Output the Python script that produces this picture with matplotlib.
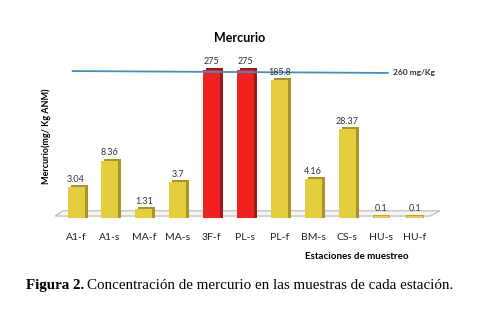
import numpy as np
import matplotlib.pyplot as plt
import matplotlib.transforms as mtransforms
from matplotlib.patches import Polygon

# Datos
estaciones = ['A1-f', 'A1-s', 'MA-f', 'MA-s', '3F-f', 'PL-s', 'PL-f', 'BM-s', 'CS-s', 'HU-s', 'HU-f']
mercurio = [3.04, 8.36, 1.31, 3.7, 275, 275, 185.8, 4.16, 28.37, 0.1, 0.1]
etiquetas = ['3.04', '8.36', '1.31', '3.7', '275', '275', '185.8', '4.16', '28.37', '0.1', '0.1']
limite = 260
limite_txt = '260 mg/Kg'

plt.rcParams['font.family'] = ['Lato', 'DejaVu Sans']

fig = plt.figure(figsize=(4.96, 3.10), dpi=100)
ax = fig.add_axes([0.111, 0.297, 0.776, 0.510])
ax.set_yscale('log')
ax.set_ylim(0.926, 400)
ax.set_xlim(-0.62, 10.74)

x = np.arange(len(estaciones))
vals = np.array(mercurio)
colores = ['#f0221f' if v > limite else '#e6cd3c' for v in vals]
sombras = ['#9e1a18' if v > limite else '#a89428' for v in vals]

# cara lateral (efecto 3D)
off = mtransforms.offset_copy(ax.transData, fig=fig, x=3, y=2, units='dots')
ax.bar(x, vals, width=0.5, color=sombras, transform=off, zorder=2)
ax.bar(x, vals, width=0.5, color=colores, zorder=3)

# valores por debajo del piso
bajo = vals < 1
ax.bar(x[bajo], np.ones(bajo.sum()) * 1.02 - 0.926, bottom=0.926, width=0.5,
       color='#e6cd3c', edgecolor='#a89428', linewidth=0.5, zorder=3)

# piso
piso = Polygon([(0.0, 0.012), (0.975, 0.012), (1.0, 0.045), (0.02, 0.045)],
               closed=True, transform=ax.transAxes, facecolor='#f4f4f4',
               edgecolor='#b8b8b8', linewidth=0.8, zorder=1)
ax.add_patch(piso)

# linea limite
ax.plot([-0.1, 9.2], [limite, limite * 0.93], color='#3a8fcf', linewidth=1.3, zorder=4)
ax.text(9.35, limite * 0.93, limite_txt, fontsize=6, fontweight='bold',
        color='#333333', va='center', ha='left')

for xi, v, t in zip(x, vals, etiquetas):
    ax.text(xi, max(v, 1.0) * 1.13, t, ha='center', va='bottom', fontsize=6.5,
            color='#333333', zorder=5)

ax.set_xticks(x)
ax.set_xticklabels(estaciones, fontsize=7.5, color='#222222')
ax.tick_params(axis='x', length=0, pad=11)
ax.set_yticks([])
ax.minorticks_off()
ax.tick_params(axis='y', which='both', left=False, labelleft=False)
for s in ax.spines.values():
    s.set_visible(False)
ax.patch.set_alpha(0)

fig.text(0.484, 0.865, 'Mercurio', ha='center', fontsize=9, fontweight='bold')
fig.text(0.093, 0.56, 'Mercurio(mg/ Kg ANM)', rotation=90, ha='center', va='center',
         fontsize=6.5, fontweight='bold')
fig.text(0.72, 0.165, 'Estaciones de muestreo', ha='center', fontsize=7, fontweight='bold')

# pie de figura
t1 = fig.text(0.052, 0.068, 'Figura 2.', fontsize=10.8, fontweight='bold',
              family='Liberation Serif')
fig.canvas.draw()
bb = t1.get_window_extent(fig.canvas.get_renderer())
fig.text(bb.x1 / fig.bbox.width + 0.006, 0.068,
         'Concentración de mercurio en las muestras de cada estación.',
         fontsize=10.8, family='Liberation Serif')

fig.savefig('out.png', dpi=100)
